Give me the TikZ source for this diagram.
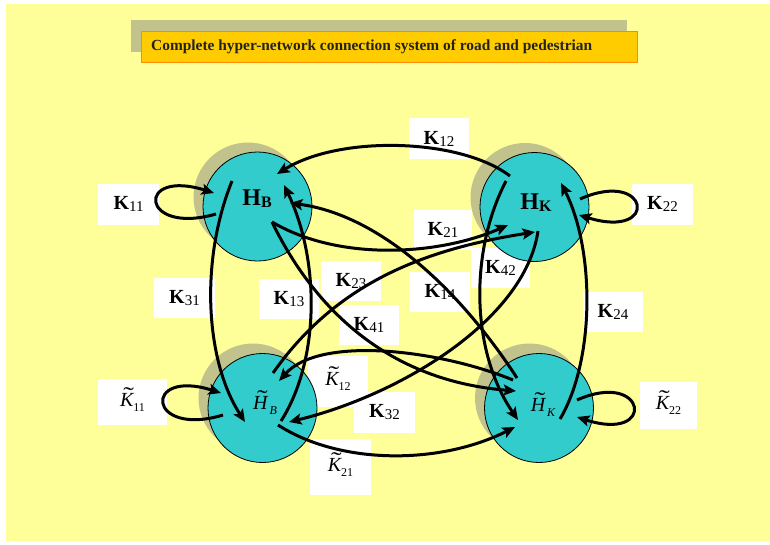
\documentclass[tikz,border=0pt]{standalone}
\usepackage{fontspec}
\usepackage{graphicx}
\setmainfont{Liberation Serif}
\usetikzlibrary{arrows.meta,calc}
\definecolor{bgyellow}{HTML}{FFFF99}
\definecolor{shadowc}{HTML}{C2C28D}
\definecolor{hubfill}{HTML}{33CCCC}
\definecolor{titlefill}{HTML}{FFCC00}
\definecolor{titleedge}{HTML}{FF8C00}
\definecolor{titleink}{HTML}{222222}
\newcommand{\tildeon}[1]{\leavevmode\ooalign{\itshape #1\cr\hidewidth\kern0.2em\raisebox{0.2em}{\scalebox{1.6}[1.1]{\char"02DC}}\hidewidth\cr}}
\newcommand{\bK}[1]{{\fontsize{20}{22}\selectfont\textbf{K}\raisebox{-2pt}{\fontsize{15}{15}\selectfont #1}}}
\newcommand{\tK}[1]{{\fontsize{20}{22}\selectfont\tildeon{K}\raisebox{-5pt}{\fontsize{12}{12}\selectfont #1}}}
\begin{document}
\begin{tikzpicture}[x=1pt,y=-1pt,
  hub/.style={circle,draw=black,line width=0.8pt,fill=hubfill,minimum size=109pt,inner sep=0pt},
  hubshadow/.style={circle,fill=shadowc,minimum size=109pt,inner sep=0pt},
  lab/.style={fill=white,inner sep=0pt,minimum width=61pt,minimum height=41pt},
  link/.style={line width=3pt,-{Stealth[length=12.5pt,width=11pt,inset=2.5pt]}},
  hubtext/.style={inner sep=0pt}]
\fill[white] (0,0) rectangle (770,544);
\fill[bgyellow] (6,4) rectangle (770,541);
\useasboundingbox (0,0) rectangle (770,544);
% title
\fill[shadowc] (131,20) rectangle (627,52);
\node[draw=titleedge,line width=1.2pt,fill=titlefill,minimum width=496pt,minimum height=31pt,anchor=north west,inner sep=0pt] (titlebox) at (141,31) {};
\node[anchor=base west,inner sep=0pt,text=titleink,font=\bfseries\fontsize{15.4}{18}\selectfont] (titletext) at (151,50) {Complete hyper-network connection system of road and pedestrian};
% labels
\node[lab] (l11) at (128.5,204) {\bK{11}};
\node[lab,minimum width=60pt] (l12) at (439,138.5) {\bK{12}};
\node[lab] (l22) at (662.5,204) {\bK{22}};
\node[lab,minimum width=58pt,minimum height=40pt] (l21) at (443,230) {\bK{21}};
\node[lab,minimum width=59pt,minimum height=40pt] (l42) at (500.5,268) {\bK{42}};
\node[lab,minimum width=60pt,minimum height=40pt] (l23) at (351,281) {\bK{23}};
\node[lab,minimum width=60pt,minimum height=40pt] (l13) at (289,299) {\bK{13}};
\node[lab,minimum width=60pt,minimum height=40pt] (l41) at (369,325) {\bK{41}};
\node[lab,minimum width=60pt,minimum height=40pt] (l14) at (440,292) {\bK{14}};
\node[lab,minimum height=40pt] (l31) at (184.5,298) {\bK{31}};
\node[lab,minimum width=60pt,minimum height=40pt] (l24) at (613,312) {\bK{24}};
\node[lab,minimum width=69pt,minimum height=46pt] (t11) at (132.5,402) {\tK{11}};
\node[lab,minimum width=60pt,minimum height=51pt] (t12) at (338,381.5) {\tK{12}};
\node[lab] (l32) at (384.5,412.5) {\bK{32}};
\node[lab,minimum height=56pt] (t21) at (340.5,467) {\tK{21}};
\node[lab,minimum width=57pt,minimum height=47pt] (t22) at (668.5,405.5) {\tK{22}};
% hubs
\node[hubshadow] (hbs) at (248,197) {};
\node[hubshadow] (hks) at (525,197.5) {};
\node[hubshadow] (thbs) at (253,398) {};
\node[hubshadow] (thks) at (529.5,398) {};
\node[hub] (hb) at (257.5,206.5) {};
\node[hub] (hk) at (534.5,207) {};
\node[hub] (thb) at (262.5,408) {};
\node[hub] (thk) at (539,408) {};
\node[hubtext] (hbt) at (257,199) {\fontsize{24}{24}\selectfont\bfseries H\raisebox{-2pt}{\fontsize{16}{16}\selectfont B}};
\node[hubtext] (hkt) at (536,203) {\fontsize{24}{24}\selectfont\bfseries H\raisebox{-2pt}{\fontsize{16}{16}\selectfont K}};
\node[hubtext] (thbt) at (265,405) {\fontsize{20}{20}\selectfont\tildeon{H}\hspace{2pt}\raisebox{-5pt}{\fontsize{12}{12}\selectfont\itshape B}};
\node[hubtext] (thkt) at (543,407) {\fontsize{20}{20}\selectfont\tildeon{H}\hspace{2pt}\raisebox{-5pt}{\fontsize{12}{12}\selectfont\itshape K}};
% connector end points
\coordinate (k12s) at (510,176);  \coordinate (k12e) at (277,174);
\coordinate (k21s) at (272,222);  \coordinate (k21e) at (508,225);
\coordinate (k23s) at (273,373);  \coordinate (k23e) at (535,232);
\coordinate (k32s) at (538,231);  \coordinate (k32e) at (289,422);
\coordinate (t12s) at (513,380);  \coordinate (t12e) at (279,381);
\coordinate (t21s) at (278,425);  \coordinate (t21e) at (515,427);
\coordinate (k31s) at (232,181);  \coordinate (k31e) at (245,422);
\coordinate (k13s) at (281,421);  \coordinate (k13e) at (284,185);
\coordinate (k14s) at (517,378);  \coordinate (k14e) at (290,203);
\coordinate (k41s) at (272,222);  \coordinate (k41e) at (516,391);
\coordinate (k42s) at (506,181);  \coordinate (k42e) at (518,420);
\coordinate (k24s) at (560,419);  \coordinate (k24e) at (561,183);
\coordinate (k11s) at (216,214);  \coordinate (k11e) at (214,193);
\coordinate (k22s) at (580,199);  \coordinate (k22e) at (579,215);
\coordinate (t11s) at (223,415);  \coordinate (t11e) at (221,393);
\coordinate (t22s) at (577,400);  \coordinate (t22e) at (577,417);
% connectors
\draw[link] (k12s) .. controls (460,138) and (340,135) .. (k12e);
\draw[link] (k21s) .. controls (340,262) and (440,255) .. (k21e);
\draw[link] (k23s) .. controls (335,285) and (420,250) .. (k23e);
\draw[link] (k32s) .. controls (525,320) and (400,395) .. (k32e);
\draw[link] (t12s) .. controls (440,350) and (320,335) .. (t12e);
\draw[link] (t21s) .. controls (340,465) and (440,465) .. (t21e);
\draw[link] (k31s) .. controls (200,260) and (205,360) .. (k31e);
\draw[link] (k13s) .. controls (320,360) and (320,260) .. (k13e);
\draw[link] (k14s) .. controls (460,290) and (380,215) .. (k14e);
\draw[link] (k41s) .. controls (310,300) and (380,380) .. (k41e);
\draw[link] (k42s) .. controls (470,250) and (470,350) .. (k42e);
\draw[link] (k24s) .. controls (595,360) and (595,250) .. (k24e);
\draw[link] (k11s) .. controls (140,236) and (135,168) .. (k11e);
\draw[link] (k22s) .. controls (650,168) and (660,240) .. (k22e);
\draw[link] (t11s) .. controls (147,438) and (142,368) .. (t11e);
\draw[link] (t22s) .. controls (647,369) and (657,443) .. (t22e);
\end{tikzpicture}
\end{document}
